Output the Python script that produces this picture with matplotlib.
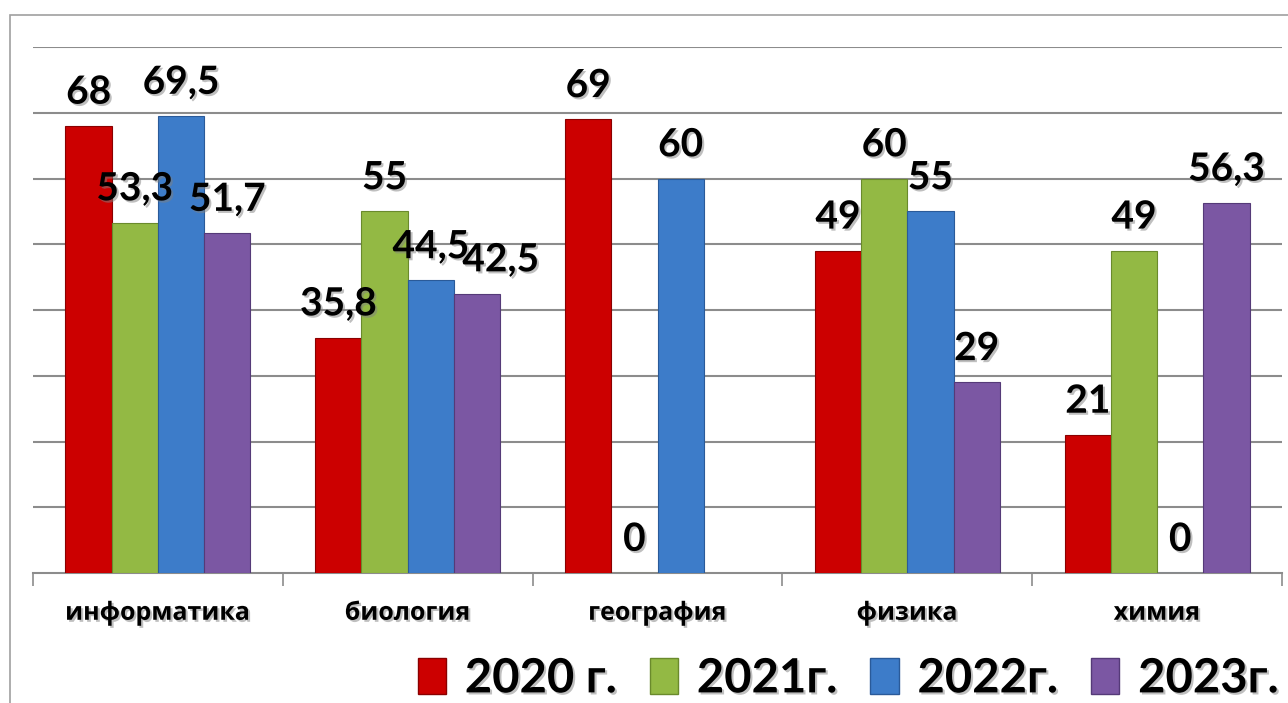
import numpy as np
import matplotlib
matplotlib.use("Agg")
import matplotlib.pyplot as plt
import matplotlib.patheffects as pe
from matplotlib.patches import Patch, Rectangle

# subjects and yearly results
subjects = ["информатика", "биология", "география", "физика", "химия"]
years = ["2020 г.", "2021г.", "2022г.", "2023г."]
y2020 = [68, 35.8, 69, 49, 21]
y2021 = [53.3, 55, 0, 60, 49]
y2022 = [69.5, 44.5, 60, 55, 0]
y2023 = [51.7, 42.5, np.nan, 29, 56.3]

colors = ["#cc0000", "#93b944", "#3d7cc9", "#7b57a3"]
edges = ["#8a0000", "#6a8a2c", "#2a5a99", "#553a78"]

# the label of (series, subject) that Excel pushed sideways
nudge = {(3, 1): 17}

plt.rcParams['font.family'] = ['Lato', 'Open Sans', 'DejaVu Sans']

fig = plt.figure(figsize=(12.88, 7.03), dpi=100)

# light outer frame of the chart
fig.patches.append(Rectangle((10 / 1288, -0.1), 1.2, 1 - 15 / 703 + 0.1,
                             transform=fig.transFigure, fill=False,
                             edgecolor="#a0a0a0", linewidth=1.2))

ax = fig.add_axes([33 / 1288, 1 - 573 / 703, 1249 / 1288, 526 / 703])

shadow = [pe.SimplePatchShadow(offset=(1.5, -1.5), shadow_rgbFace="#808080", alpha=0.5),
          pe.Normal()]

x = np.arange(len(subjects))
w = 0.185
for i, vals in enumerate([y2020, y2021, y2022, y2023]):
    pos = x + (i - 1.5) * w
    ax.bar(pos, vals, width=w, color=colors[i], edgecolor=edges[i],
           linewidth=0.8, zorder=3)
    for j, (p, v) in enumerate(zip(pos, vals)):
        if np.isnan(v):
            continue
        txt = ("%g" % v).replace(".", ",")
        ax.annotate(txt, (p, v), xytext=(nudge.get((i, j), 0), 16),
                    textcoords="offset points",
                    ha="center", va="baseline", fontsize=28, fontweight="bold",
                    zorder=5, path_effects=shadow)

ax.set_xlim(-0.5, len(subjects) - 0.5)
ax.set_ylim(0, 80)
ax.set_yticks(np.arange(10, 81, 10))
ax.yaxis.grid(True, color="#8c8c8c", linewidth=1.5)
ax.set_axisbelow(True)
ax.tick_params(axis="y", left=False, labelleft=False)

ax.set_xticks(np.arange(-0.5, len(subjects), 1))
ax.set_xticklabels([])
ax.set_xticks(x, minor=True)
ax.set_xticklabels(subjects, minor=True, fontsize=18, fontweight="bold",
                   family=['Open Sans', 'DejaVu Sans'])
ax.tick_params(axis="x", which="major", length=9, color="#8c8c8c", width=1.2)
ax.tick_params(axis="x", which="minor", length=0, pad=20)
for lab in ax.get_xticklabels(minor=True):
    lab.set_path_effects(shadow)

for s in ["left", "right", "top"]:
    ax.spines[s].set_visible(False)
ax.spines["bottom"].set_color("#8c8c8c")
ax.spines["bottom"].set_linewidth(1.5)

handles = [Patch(facecolor=c, edgecolor=e) for c, e in zip(colors, edges)]
leg = fig.legend(handles, years, loc="center", bbox_to_anchor=(848 / 1288, 0.035),
                 ncol=4, frameon=False, prop={"size": 34, "weight": "bold"},
                 handlelength=0.6, handleheight=0.8, handletextpad=0.4,
                 columnspacing=0.7, borderpad=0)
for t in leg.get_texts():
    t.set_path_effects(shadow)

fig.savefig("out.png", dpi=100)
